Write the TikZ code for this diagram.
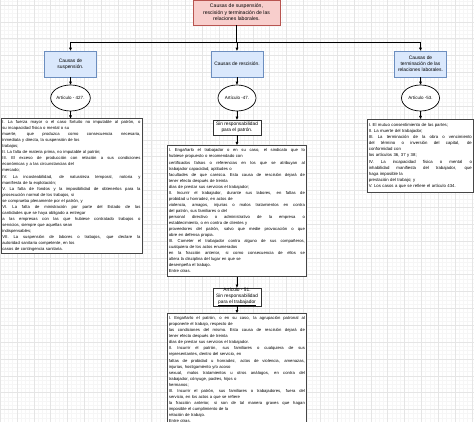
\documentclass[tikz,border=0pt]{standalone}
\usepackage{fontspec}
\setmainfont{Liberation Sans}
\usetikzlibrary{arrows.meta,shadows,shapes.geometric}
\newcommand\J[1]{\leavevmode\hbox to \hsize{\spaceskip=0.278em plus 2em\relax\xspaceskip=0.278em plus 2em\relax #1}}
\definecolor{pinkfill}{RGB}{248,206,204}
\definecolor{pinkdraw}{RGB}{184,84,80}
\definecolor{bluefill}{RGB}{218,232,252}
\definecolor{bluedraw}{RGB}{108,142,191}
\tikzset{
  minorgrid/.style={draw=gray!7, line width=0.3pt},
  majorgrid/.style={draw=gray!20, line width=0.4pt},
  conn/.style={draw=black, line width=0.6pt},
  arr/.style={conn, -{Triangle[length=3pt,width=2.6pt]}},
  topbox/.style={draw=pinkdraw, fill=pinkfill, line width=0.5pt, minimum width=87pt, minimum height=25pt, inner sep=0pt, align=center, font=\fontsize{5.1}{6.5}\selectfont},
  catbox/.style={draw=bluedraw, fill=bluefill, line width=0.5pt, minimum width=52pt, minimum height=26pt, inner sep=0pt, align=center, font=\fontsize{4.9}{6.2}\selectfont},
  artell/.style={ellipse, draw=black, fill=white, line width=0.7pt, minimum width=38pt, minimum height=26pt, inner sep=0pt, font=\fontsize{4.5}{5.5}\selectfont},
  smallbox/.style={draw=gray!40!black, fill=white, line width=0.6pt, minimum width=48pt, inner sep=0pt, align=center, font=\fontsize{4.8}{5.9}\selectfont},
  tbox/.style={draw=gray!55!black, fill=white, line width=0.8pt, inner xsep=1.5pt, align=left, anchor=north west, font=\fontsize{4.2}{6.05}\selectfont, drop shadow={shadow xshift=0.9pt, shadow yshift=-0.9pt, opacity=0.45, fill=gray}},
}
\begin{document}
\begin{tikzpicture}[x=1pt, y=-1pt]
\useasboundingbox (0,0) rectangle (474,422);
\begin{scope}
\clip (0,0) rectangle (474,422);
\foreach \i in {0,...,113} {\draw[minorgrid] ({\i*4.2125},0) -- ({\i*4.2125},422);}
\foreach \j in {-2,...,101} {\draw[minorgrid] (0,{5+\j*4.2125}) -- (474,{5+\j*4.2125});}
\foreach \i in {0,...,29} {\draw[majorgrid] ({\i*16.85},0) -- ({\i*16.85},422);}
\foreach \j in {-1,...,25} {\draw[majorgrid] (0,{5+\j*16.85}) -- (474,{5+\j*16.85});}
\end{scope}

% top
\node[topbox] (top) at (236.5,12.5) {Causas de suspensión,\\ rescisión y terminación de las\\ relaciones laborales.};
\coordinate (hl) at (70.5,42);
\coordinate (hm) at (237,42);
\coordinate (hr) at (420.5,42);
\draw[conn] (top.south) -- (top.south |- hm);
\draw[conn] (hl) -- (hr);

% categories
\node[catbox] (c1) at (70.5,64) {Causas de\\ suspensión.};
\node[catbox] (c2) at (237,64) {Causas de rescisión.};
\node[catbox] (c3) at (420.5,64) {Causas de\\ terminación de las\\ relaciones laborales.};
\draw[arr] (hl) -- (c1.north);
\draw[arr] (hm) -- (c2.north);
\draw[arr] (hr) -- (c3.north);

% articles
\node[artell] (a1) at (70.5,98) {Artículo - 427.};
\node[artell] (a2) at (237,98) {Artículo -47.};
\node[artell] (a3) at (420.5,98) {Artículo -53.};
\draw[arr] (c1.south) -- (a1.north);
\draw[arr] (c2.south) -- (a2.north);
\draw[arr] (c3.south) -- (a3.north);

% left text
\node[tbox, text width=138pt, inner ysep=1.6pt] (t1) at (0.5,118.5) {%
\J{I. La fuerza mayor o el caso fortuito no imputable al patrón, o}\\
su incapacidad física o mental o su\\
\J{muerte, que produzca como consecuencia necesaria,}\\
inmediata y directa, la suspensión de los\\
trabajos;\\
II. La falta de materia prima, no imputable al patrón;\\
\J{III. El exceso de producción con relación a sus condiciones}\\
económicas y a las circunstancias del\\
mercado;\\
\J{IV. La incosteabilidad, de naturaleza temporal, notoria y}\\
manifiesta de la explotación;\\
\J{V. La falta de fondos y la imposibilidad de obtenerlos para la}\\
prosecución normal de los trabajos, si\\
se comprueba plenamente por el patrón, y\\
\J{VI. La falta de ministración por parte del Estado de las}\\
cantidades que se haya obligado a entregar\\
\J{a las empresas con las que hubiese contratado trabajos o}\\
servicios, siempre que aquellas sean\\
indispensables;\\
\J{VII. La suspensión de labores o trabajos, que declare la}\\
autoridad sanitaria competente, en los\\
casos de contingencia sanitaria.};
\draw[arr] (a1.south) -- (a1.south |- t1.north);

% middle column
\node[smallbox, minimum height=15pt] (s1) at (237,127.5) {Sin responsabilidad\\ para el patrón.};
\draw[arr] (a2.south) -- (s1.north);
\node[tbox, text width=136pt, inner ysep=3.5pt] (t2) at (167,145) {%
\J{I. Engañarlo el trabajador o en su caso, el sindicato que lo}\\
hubiese propuesto o recomendado con\\
\J{certificados falsos o referencias en los que se atribuyan al}\\
trabajador capacidad, aptitudes o\\
\J{facultades de que carezca. Esta causa de rescisión dejará de}\\
tener efecto después de treinta\\
días de prestar sus servicios el trabajador;\\
\J{II. Incurrir el trabajador, durante sus labores, en faltas de}\\
probidad u honradez, en actos de\\
\J{violencia, amagos, injurias o malos tratamientos en contra}\\
del patrón, sus familiares o del\\
\J{personal directivo o administrativo de la empresa o}\\
establecimiento, o en contra de clientes y\\
\J{proveedores del patrón, salvo que medie provocación o que}\\
obre en defensa propia.\\
\J{III. Cometer el trabajador contra alguno de sus compañeros,}\\
cualquiera de los actos enumerados\\
\J{en la fracción anterior, si como consecuencia de ellos se}\\
altera la disciplina del lugar en que se\\
desempeña el trabajo.\\
Entre otras.};
\draw[arr] (s1.south) -- (s1.south |- t2.north);

\node[smallbox, minimum height=18pt] (s2) at (237,297) {Artículo - 51.\\ Sin responsabilidad\\ \underline{para el trabajador}};
\draw[arr] (t2.south -| s2.north) -- (s2.north);
\node[tbox, text width=136pt, inner ysep=3.2pt] (t3) at (167,313) {%
\J{I. Engañarlo el patrón, o en su caso, la agrupación patronal al}\\
proponerle el trabajo, respecto de\\
\J{las condiciones del mismo. Esta causa de rescisión dejará de}\\
tener efecto después de treinta\\
días de prestar sus servicios el trabajador.\\
\J{II. Incurrir el patrón, sus familiares o cualquiera de sus}\\
representantes, dentro del servicio, en\\
\J{faltas de probidad u honradez, actos de violencia, amenazas,}\\
injurias, hostigamiento y/o acoso\\
\J{sexual, malos tratamientos u otros análogos, en contra del}\\
trabajador, cónyuge, padres, hijos o\\
hermanos;\\
\J{III. Incurrir el patrón, sus familiares o trabajadores, fuera del}\\
servicio, en los actos a que se refiere\\
\J{la fracción anterior, si son de tal manera graves que hagan}\\
imposible el cumplimiento de la\\
relación de trabajo.\\
\underline{Entre otras.}};
\draw[arr] (s2.south) -- (s2.south |- t3.north);

% right text
\node[tbox, text width=103pt, inner ysep=4.2pt, font=\fontsize{4.3}{6.05}\selectfont] (t4) at (367,119) {%
I. El mutuo consentimiento de las partes;\\
II. La muerte del trabajador;\\
\J{III. La terminación de la obra o vencimiento}\\
\J{del término o inversión del capital, de}\\
conformidad con\\
los artículos 36, 37 y 38;\\
\J{IV. La incapacidad física o mental o}\\
\J{inhabilidad manifiesta del trabajador, que}\\
haga imposible la\\
prestación del trabajo; y\\
V. Los casos a que se refiere el artículo 434.};
\draw[arr] (a3.south) -- (a3.south |- t4.north);
\end{tikzpicture}
\end{document}
